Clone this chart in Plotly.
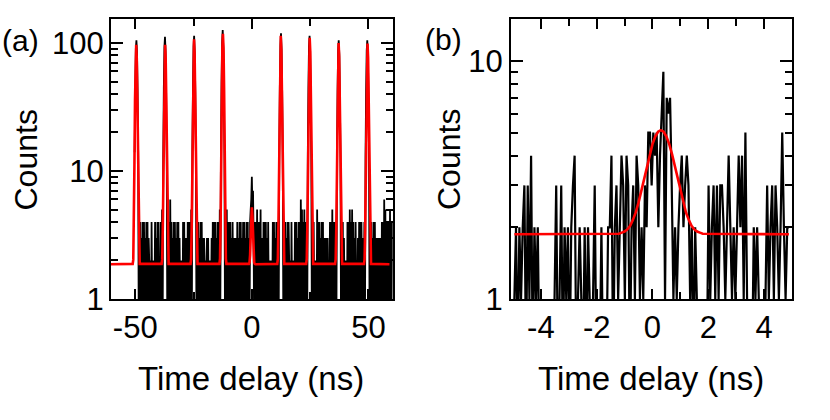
import numpy as np
import plotly.graph_objects as go

# ---------------- panel (a): wide histogram ----------------
A_BIN_START = -50.25          # ns, first bin
A_BIN_WIDTH = 0.25            # ns
# counts around each of the nine peaks (7 bins each)
a_peak_counts = [
    [14, 45, 90, 105, 85, 42, 14],   # -49.5 ns
    [13, 44, 92, 112, 86, 40, 13],   # -37.25 ns
    [15, 46, 94, 114, 84, 41, 14],   # -24.75 ns
    [14, 48, 100, 126, 92, 44, 13],  # -12.5 ns
    [4, 5, 6, 9, 5, 7, 3],           # 0 ns
    [13, 45, 96, 119, 88, 42, 14],   # 12.5 ns
    [14, 44, 94, 114, 86, 40, 12],   # 24.75 ns
    [12, 42, 88, 105, 82, 39, 13],   # 37.25 ns
    [13, 43, 87, 105, 84, 40, 12],   # 49.5 ns
]
# background counts between peaks (one digit per bin)
a_background = [
    "0414031404" "13041403" "212" "041" "202" "14031404" "121" "4150",
    "0414061403" "1404130414" "031" "212" "04140313" "0414041" "50",
    "0414031404" "1303" "212" "13031" "202" "131" "404140314" "04151",
    "0415041404" "1304130313" "0413041403" "1404130414" "030",
    "0414150414" "1501304141" "403041" "21202" "1404130414" "10",
    "0414031404" "212" "041" "202" "1404130414" "06150" "415" "04130",
    "04141" "202" "051404" "1304140" "3130313121" "40415" "0414040",
    "0414031" "212" "041405" "14150" "41304" "121" "3041404131" "040",
    "0414031404" "1303130313" "041406" "15041404" "150414",
]

# fit curve (a)
a_fit_baseline = 1.87
a_fit_xmin, a_fit_xmax = -60.4, 59.0
a_fit_centers = [-49.6, -37.2, -24.8, -12.4, 0.0, 12.4, 24.8, 37.2, 49.6]
a_fit_offsets = [-1.5, -1.25, -1.0, -0.75, -0.5, -0.25, 0.0, 0.25, 0.5, 0.75, 1.0, 1.25, 1.5]
a_fit_profiles = [
    [1.88, 2.03, 3.48, 11.4, 36.1, 75.6, 97, 75.6, 36.1, 11.4, 3.48, 2.03, 1.88],
    [1.88, 2.03, 3.48, 11.4, 36.1, 75.6, 97, 75.6, 36.1, 11.4, 3.48, 2.03, 1.88],
    [1.88, 2.05, 3.65, 12.5, 39.7, 83.3, 107, 83.3, 39.7, 12.5, 3.65, 2.05, 1.88],
    [1.88, 2.07, 3.83, 13.6, 43.7, 91.8, 118, 91.8, 43.7, 13.6, 3.83, 2.07, 1.88],
    [1.87, 1.88, 1.93, 2.21, 3.07, 4.45, 5.2, 4.45, 3.07, 2.21, 1.93, 1.88, 1.87],
    [1.88, 2.06, 3.76, 13.2, 42.2, 88.7, 114, 88.7, 42.2, 13.2, 3.76, 2.06, 1.88],
    [1.88, 2.05, 3.70, 12.8, 40.8, 85.6, 110, 85.6, 40.8, 12.8, 3.70, 2.05, 1.88],
    [1.88, 2.04, 3.53, 11.8, 37.2, 77.9, 100, 77.9, 37.2, 11.8, 3.53, 2.04, 1.88],
    [1.88, 2.04, 3.52, 11.7, 36.9, 77.1, 99, 77.1, 36.9, 11.7, 3.52, 2.04, 1.88],
]

# ---------------- panel (b): zoom around 0 ----------------
B_BIN_START = -4.95
B_BIN_WIDTH = 0.06
b_counts = [
    1, 2, 0, 2, 1, 2, 3, 0, 3, 1,
    4, 0, 2, 1, 2, 0, 1, 0, 0, 1,
    0, 0, 1, 0, 1, 3, 0, 1, 3, 0,
    2, 1, 2, 0, 2, 3, 4, 0, 1, 2,
    1, 0, 2, 0, 2, 1, 0, 1, 3, 0,
    1, 0, 2, 0, 1, 0, 2, 2, 4, 0,
    2, 3, 1, 2, 4, 3, 1, 4, 3, 0,
    2, 3, 1, 4, 3, 1, 2, 1, 3, 2,
    5, 5, 3, 5, 4, 5, 2, 4, 6, 9,
    1, 7, 6, 7, 3, 1, 2, 1, 2, 3,
    4, 2, 3, 4, 3, 1, 2, 0, 2, 1,
    0, 1, 0, 0, 1, 0, 3, 1, 2, 3,
    1, 3, 1, 3, 3, 2, 1, 2, 4, 2,
    1, 2, 1, 2, 4, 2, 4, 1, 5, 1,
    0, 1, 0, 2, 1, 2, 1, 0, 1, 0,
    1, 3, 1, 2, 3, 1, 3, 2, 1, 2,
    5, 2, 1, 2, 2,
]
b_fit_x = [-4.95, -1.2, -1.1, -1.0, -0.9, -0.8, -0.7, -0.6, -0.5, -0.4, -0.3, -0.2,
           -0.1, 0.0, 0.1, 0.2, 0.3, 0.4, 0.5, 0.6, 0.7, 0.8, 0.9, 1.0, 1.1, 1.2,
           1.3, 1.4, 1.5, 1.6, 1.7, 1.8, 4.89]
b_fit_y = [1.87, 1.88, 1.90, 1.92, 1.96, 2.03, 2.15, 2.31, 2.54, 2.84, 3.21, 3.62,
           4.06, 4.47, 4.81, 5.04, 5.12, 5.04, 4.81, 4.47, 4.06, 3.62, 3.21, 2.84,
           2.54, 2.31, 2.15, 2.03, 1.96, 1.92, 1.90, 1.88, 1.87]

# tick labels
a_xticks = [-50, 0, 50]
a_xminor = [-25, 25]
a_yticks = [1, 10, 100]
a_yminor = [2, 3, 4, 5, 6, 7, 8, 9, 20, 30, 40, 50, 60, 70, 80, 90]
b_xticks = [-4, -2, 0, 2, 4]
b_xminor = [-3, -1, 1, 3]
b_yticks = [1, 10]
b_yminor = [2, 3, 4, 5, 6, 7, 8, 9]

# ---------------- assemble ----------------
a_counts = []
for k, prof in enumerate(a_peak_counts):
    a_counts += prof
    if k < len(a_background):
        a_counts += [int(ch) for ch in a_background[k]]
a_counts = np.array(a_counts, dtype=float)
a_x = A_BIN_START + A_BIN_WIDTH * np.arange(len(a_counts))
ZERO_FLOOR = 0.5  # zero counts drawn below the log axis (clipped)
a_y = np.where(a_counts > 0, a_counts, ZERO_FLOOR)

a_fit_x = [a_fit_xmin]
a_fit_y = [a_fit_baseline]
for c, prof in zip(a_fit_centers, a_fit_profiles):
    a_fit_x += [c + o for o in a_fit_offsets]
    a_fit_y += prof
a_fit_x.append(a_fit_xmax)
a_fit_y.append(a_fit_baseline)

b_c = np.array(b_counts, dtype=float)
b_x = B_BIN_START + B_BIN_WIDTH * np.arange(len(b_c))
b_y = np.where(b_c > 0, b_c, ZERO_FLOOR)

FONT = "Liberation Sans, Arial, Helvetica, sans-serif"
RED = "#ff0000"

fig = go.Figure()
fig.add_trace(go.Scatter(x=a_x, y=a_y, mode="lines", xaxis="x", yaxis="y",
                         line=dict(color="black", width=1.8, simplify=False), hoverinfo="skip"))
fig.add_trace(go.Scatter(x=a_fit_x, y=a_fit_y, mode="lines", xaxis="x", yaxis="y",
                         line=dict(color=RED, width=2.6), hoverinfo="skip"))
fig.add_trace(go.Scatter(x=b_x, y=b_y, mode="lines", xaxis="x2", yaxis="y2",
                         line=dict(color="black", width=2.2, simplify=False), hoverinfo="skip"))
fig.add_trace(go.Scatter(x=b_fit_x, y=b_fit_y, mode="lines", xaxis="x2", yaxis="y2",
                         line=dict(color=RED, width=2.6), hoverinfo="skip"))

common = dict(showline=True, linecolor="black", linewidth=2.2, mirror="ticks",
              ticks="inside", tickcolor="black", tickwidth=2.2, showgrid=False,
              zeroline=False, automargin=False,
              tickfont=dict(family=FONT, size=31, color="black"))
minor_common = dict(ticks="inside", tickcolor="black", tickwidth=2.2, ticklen=7, showgrid=False)

YDOM = [121 / 420, 401 / 420]
fig.update_layout(
    width=830, height=420, margin=dict(l=0, r=0, t=0, b=0, autoexpand=False),
    paper_bgcolor="white", plot_bgcolor="white", showlegend=False,
    xaxis=dict(common, domain=[111 / 830, 392.7 / 830], range=[-60.4, 60.4], anchor="y",
               tickmode="array", tickvals=a_xticks, ticktext=[str(v) for v in a_xticks],
               ticklen=10, ticklabelstandoff=0, minor=dict(minor_common, tickvals=a_xminor)),
    yaxis=dict(common, domain=YDOM, type="log", range=[0, 2.1875], anchor="x",
               tickmode="array", tickvals=a_yticks, ticktext=[str(v) for v in a_yticks],
               ticklen=12, ticklabelstandoff=-1, minor=dict(minor_common, tickvals=a_yminor)),
    xaxis2=dict(common, domain=[511 / 830, 792 / 830], range=[-5.07, 5.0], anchor="y2",
                tickmode="array", tickvals=b_xticks, ticktext=[str(v) for v in b_xticks],
                ticklen=10, ticklabelstandoff=0, minor=dict(minor_common, tickvals=b_xminor)),
    yaxis2=dict(common, domain=YDOM, type="log", range=[0, 1.176], anchor="x2",
                tickmode="array", tickvals=b_yticks, ticktext=[str(v) for v in b_yticks],
                ticklen=12, ticklabelstandoff=0, minor=dict(minor_common, tickvals=b_yminor)),
)

def ann(text, x, y, size, angle=0):
    fig.add_annotation(text=text, x=x / 830, y=1 - y / 420, xref="paper", yref="paper",
                       showarrow=False, textangle=angle, xanchor="center", yanchor="middle",
                       font=dict(family=FONT, size=size, color="black"))

ann("Counts", 25.5, 160, 32, -90)
ann("Counts", 449, 160, 32, -90)
ann("Time delay (ns)", 251, 378, 33)
ann("Time delay (ns)", 651, 378, 33)
ann("(a)", 20, 41, 30)
ann("(b)", 443, 39, 30)

fig.write_html("out.html", config={"displayModeBar": False},
               post_script="document.body.style.margin='0';document.body.style.padding='0';")
